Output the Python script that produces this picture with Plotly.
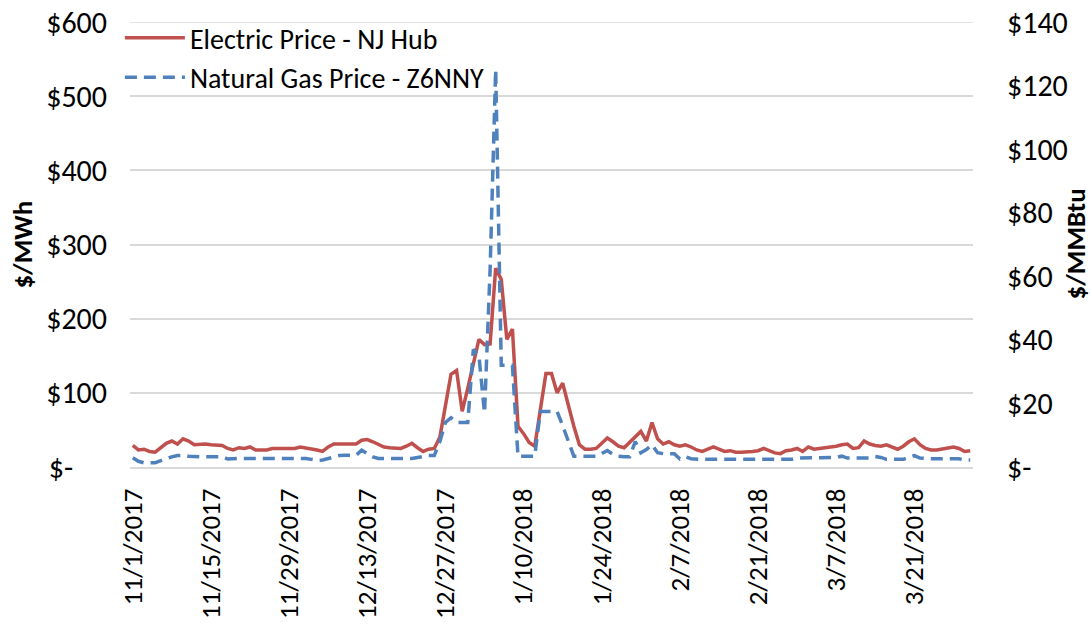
import pandas as pd
import plotly.graph_objects as go

start_date = "2017-11-01"

electric_price = [
    29, 23, 24, 21, 20, 26, 32, 35, 31, 38, 35, 30, 31, 31, 30, 30, 29, 25, 23, 26, 25, 27, 23, 23, 23, 25,
    25, 25, 25, 25, 27, 26, 24, 23, 21, 27, 31, 31, 30, 30, 31, 36, 37, 34, 30, 27, 26, 26, 25, 28, 32, 26, 21, 24,
    25, 40, 85, 125, 130, 75, 106, 140, 172, 165, 166, 268, 253, 172, 186, 55, 45, 33, 28, 77, 126, 126, 100, 113,
    82, 55, 30, 24, 24, 25, 32, 39, 34, 28,
    26, 33, 40, 48, 35, 60, 38, 31, 34, 30, 28, 30, 27, 23, 21, 24, 27, 24, 21, 22, 20,
    20, 20, 21, 22, 25, 22, 19, 18, 22, 23, 25, 21, 27, 24, 25, 25, 26, 28, 30, 31, 25, 26, 35,
    31, 29, 28, 30, 27, 24, 28, 34, 38, 30, 25, 23, 23, 24, 26, 27, 25, 21, 22,
]

gas_price = [
    2.9, 1.8, 1.3, 1.3, 1.3, 2.0, 2.7, 3.2, 3.6, 3.7, 3.4, 3.2, 3.2, 3.2, 3.2, 3.2, 3.2, 2.5, 2.7, 2.7, 2.7, 2.7, 2.7, 2.7, 2.7, 2.7,
    2.7, 2.7, 2.7, 2.7, 2.7, 2.7, 2.4, 2.1, 2.2, 2.7, 3.2, 3.6, 3.7, 3.7, 3.7, 5.3, 4.2, 3.2, 2.7, 2.7, 2.7, 2.7, 2.7, 2.7, 2.7, 3.0, 3.3, 3.6,
    3.6, 8, 14, 15.5, 14, 14, 14, 37, 35, 17, 62, 125, 32, 32, 32, 3.4, 3.4, 3.4, 3.4, 17.5, 17.5, 17.5, 17.5, 13, 8,
    3.4, 3.4, 3.4, 3.4, 3.4, 4.2, 5.2, 4.0, 3.4,
    3.2, 3.2, 8, 4.5, 5.5, 7, 4.5, 4.2, 4.2, 4.2, 2.5, 3.2, 2.6, 2.4, 2.4, 2.4, 2.4, 2.4, 2.4, 2.4, 2.4,
    2.4, 2.4, 2.4, 2.4, 2.4, 2.4, 2.4, 2.4, 2.4, 2.4, 2.8, 2.8, 2.8, 2.8, 2.8, 2.8, 2.8, 3.0, 3.4, 2.8, 2.8, 2.8, 2.8,
    2.8, 3.3, 3.0, 2.4, 2.4, 2.4, 2.4, 3.0, 3.6, 2.8, 2.6, 2.6, 2.6, 2.6, 2.6, 2.6, 2.6, 2.2, 2.2,
]

dates = pd.date_range(start_date, periods=len(electric_price), freq="D")

x_tick_dates = ["2017-11-01", "2017-11-15", "2017-11-29", "2017-12-13", "2017-12-27",
                "2018-01-10", "2018-01-24", "2018-02-07", "2018-02-21", "2018-03-07", "2018-03-21"]
x_tick_labels = ["11/1/2017", "11/15/2017", "11/29/2017", "12/13/2017", "12/27/2017",
                 "1/10/2018", "1/24/2018", "2/7/2018", "2/21/2018", "3/7/2018", "3/21/2018"]

left_tick_vals = [0, 100, 200, 300, 400, 500, 600]
left_tick_labels = ["$-" + "\u00a0" * 5, "$100", "$200", "$300", "$400", "$500", "$600"]
right_tick_vals = [0, 20, 40, 60, 80, 100, 120, 140]
right_tick_labels = ["$-", "$20", "$40", "$60", "$80", "$100", "$120", "$140"]

left_title = "$/MWh"
right_title = "$/MMBtu"

FONT = "Carlito, Calibri, Lato, sans-serif"
RED = "#C0504D"
BLUE = "#4F81BD"
GRID = "#d9d9d9"

fig = go.Figure()
fig.add_trace(go.Scatter(x=dates, y=electric_price, name="Electric Price - NJ Hub",
                         mode="lines", line=dict(color=RED, width=3.5), yaxis="y"))
fig.add_trace(go.Scatter(x=dates, y=gas_price, name="Natural Gas Price - Z6NNY",
                         mode="lines", line=dict(color=BLUE, width=3.5, dash="12px,7px"), yaxis="y2"))

x0 = pd.Timestamp(start_date) - pd.Timedelta(hours=12)
x1 = dates[-1] + pd.Timedelta(hours=12)

# top gridline (at the maximum of the left axis)
fig.add_shape(type="line", xref="paper", x0=0, x1=1, yref="y", y0=left_tick_vals[-1], y1=left_tick_vals[-1],
              line=dict(color=GRID, width=1.5), layer="below")

# axis titles
fig.add_annotation(text="<b>" + left_title + "</b>", xref="paper", yref="paper", x=-0.128, y=0.5,
                   xanchor="center", yanchor="middle", textangle=-90, showarrow=False,
                   font=dict(size=27))
fig.add_annotation(text="<b>" + right_title + "</b>", xref="paper", yref="paper", x=1.121, y=0.5,
                   xanchor="center", yanchor="middle", textangle=-90, showarrow=False,
                   font=dict(size=27))

fig.update_layout(
    width=1091, height=626,
    margin=dict(l=130, r=118, t=22, b=159, autoexpand=False),
    paper_bgcolor="white", plot_bgcolor="white",
    font=dict(family=FONT, size=28, color="black"),
    showlegend=True,
    hovermode=False,
    legend=dict(x=-0.012, y=1.02, xanchor="left", yanchor="top", bgcolor="rgba(0,0,0,0)",
                font=dict(size=28), itemwidth=60, tracegroupgap=0),
    xaxis=dict(
        range=[x0, x1], tickmode="array", tickvals=x_tick_dates, ticktext=x_tick_labels,
        tickangle=-90, showgrid=False, showline=True, linecolor=GRID, linewidth=1.5,
        ticks="", ticklabelstandoff=9, zeroline=False, automargin=False,
        tickfont=dict(size=27), ticklabeloverflow="allow",
    ),
    yaxis=dict(
        range=[0, 600], tickmode="array", tickvals=left_tick_vals, ticktext=left_tick_labels,
        showgrid=True, gridcolor=GRID, gridwidth=1.5, zeroline=False, showline=False,
        ticks="", ticklabelstandoff=22, automargin=False, ticklabeloverflow="allow",
        tickfont=dict(size=30),
    ),
    yaxis2=dict(
        range=[0, 140], tickmode="array", tickvals=right_tick_vals, ticktext=right_tick_labels,
        overlaying="y", side="right", showgrid=False, zeroline=False, showline=False,
        ticks="", ticklabelstandoff=33, automargin=False, ticklabeloverflow="allow",
        tickfont=dict(size=30),
    ),
)

fig.write_html("out.html", config={"displayModeBar": False},
               post_script="document.body.style.margin='0';")
